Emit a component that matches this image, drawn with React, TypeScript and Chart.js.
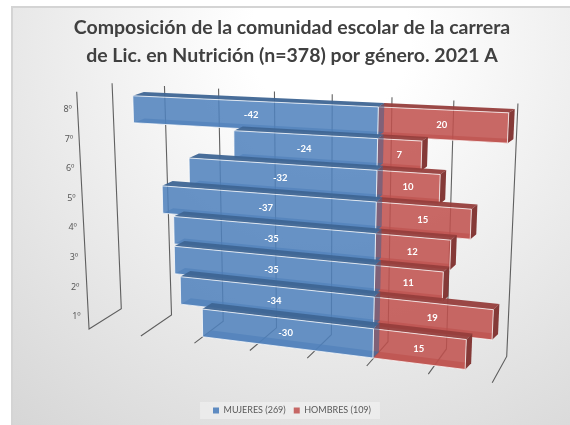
import React, { useEffect, useRef } from "react";
import { Chart, BarController, registerables } from "chart.js";

const titleLines = ["Composición de la comunidad escolar de la carrera", "de Lic. en Nutrición (n=378) por género. 2021 A"];
const categories = ["8º", "7º", "6º", "5º", "4º", "3º", "2º", "1º"];
const mujeres = [-42, -24, -32, -37, -35, -35, -34, -30];
const hombres = [20, 7, 10, 15, 12, 11, 19, 15];
const xTicks = { min: -50, max: 20, step: 10 };

type RGB = [number, number, number];
const rgba = (c: RGB, a: number) => `rgba(${c[0]},${c[1]},${c[2]},${a})`;
const BLUE: RGB = [79, 129, 189];
const RED: RGB = [192, 80, 77];
const FONT = "Lato, Carlito, sans-serif";

// Perspective of the plane that holds the front faces of the bars.
function frontPlane(v: number, t: number): [number, number] {
  const x0 = 378 - 0.68 * t;
  const s = 6.27 - 0.0386 * t;
  const k = 0.0018;
  const xr = (s * v) / (1 - k * v);
  const y0 = 121.5 + 31.7 * t;
  return [x0 + xr, y0 + (0.05 + 0.01 * t) * xr];
}
function backPlane(v: number, t: number): [number, number] {
  const [x, y] = frontPlane(v, t);
  return [x + (v < 0 ? 6 - 0.12 * v : 6), y - (4 + 0.3 * t)];
}
// Wall / floor frame positions for a value on the axis.
function frame(v: number, x0: number, y0: number, s: number, k: number, m: number): [number, number] {
  const xr = (s * v) / (1 - k * v);
  return [x0 + xr, y0 + m * xr];
}
const wallTop = (v: number) => frame(v, 392, 97.3, 6.08, 0.00172, 0.05);
const wallBottom = (v: number) => frame(v, 388, 341.7, 5.75, 0.00156, 0.124);
const floorFront = (v: number) => frame(v, 366.7, 366, 6.05, 0.00179, 0.133);

function quad(ctx: CanvasRenderingContext2D, pts: [number, number][], fill: string, stroke?: string) {
  ctx.beginPath();
  pts.forEach((p, i) => (i ? ctx.lineTo(p[0], p[1]) : ctx.moveTo(p[0], p[1])));
  ctx.closePath();
  ctx.fillStyle = fill;
  ctx.fill();
  if (stroke) {
    ctx.strokeStyle = stroke;
    ctx.lineWidth = 1;
    ctx.stroke();
  }
}

class Bar3DController extends BarController {
  static id = "bar3d";
  static defaults = BarController.defaults;
  static overrides = BarController.overrides;
  draw() {
    const ctx = (this as any)._ctx as CanvasRenderingContext2D;
    const chart = (this as any).chart;
    const meta = (this as any)._cachedMeta;
    const xs = chart.scales.x;
    const ys = chart.scales.y;
    const step = ys.getPixelForTick(1) - ys.getPixelForTick(0);
    const y0 = ys.getPixelForTick(0);
    const col: RGB = (this as any).getDataset().baseColor;
    meta.data.forEach((el: any) => {
      const { x, base, y, height } = el.getProps(["x", "base", "y", "height"], true);
      const v = xs.getValueForPixel(x);
      const z = xs.getValueForPixel(base);
      const tT = (y - height / 2 - y0) / step;
      const tB = (y + height / 2 - y0) / step;
      const dark = (f: number): RGB => [col[0] * f, col[1] * f, col[2] * f];
      const F = frontPlane;
      const B = backPlane;
      // hidden faces, seen through the translucent front
      quad(ctx, [F(z, tB), F(v, tB), B(v, tB), B(z, tB)], rgba(dark(0.85), 0.6));
      quad(ctx, [F(z, tT), F(z, tB), B(z, tB), B(z, tT)], rgba(dark(0.8), 0.5));
      // top and end
      quad(ctx, [F(z, tT), F(v, tT), B(v, tT), B(z, tT)], rgba(dark(0.78), 0.95));
      if (v > 0) quad(ctx, [F(v, tT), F(v, tB), B(v, tB), B(v, tT)], rgba(dark(0.68), 0.98));
      // front
      quad(ctx, [F(z, tT), F(v, tT), F(v, tB), F(z, tB)], rgba(col, 0.86), "rgba(255,255,255,0.75)");
    });
  }
}

const backdrop = {
  id: "backdrop",
  beforeDraw(chart: any) {
    const { ctx, width, height } = chart;
    ctx.save();
    ctx.fillStyle = "#ffffff";
    ctx.fillRect(0, 0, width, height);
    const g = ctx.createRadialGradient(330, 40, 80, 330, 40, 500);
    g.addColorStop(0, "#ffffff");
    g.addColorStop(1, "#d6d6d6");
    ctx.fillStyle = g;
    ctx.fillRect(12, 7, width - 12, height - 7);
    ctx.strokeStyle = "#d4d4d4";
    ctx.lineWidth = 2;
    ctx.beginPath();
    ctx.moveTo(12, height);
    ctx.lineTo(12, 7);
    ctx.lineTo(width, 7);
    ctx.stroke();
    const hb = chart.legend.legendHitBoxes;
    if (hb && hb.length) {
      const l = hb[0].left - 13;
      const r = hb[hb.length - 1].left + hb[hb.length - 1].width + 9;
      const t = hb[0].top - 4;
      ctx.fillStyle = "rgba(255,255,255,0.35)";
      ctx.fillRect(l, t, r - l, hb[0].height + 8);
    }
    ctx.restore();
  },
};

const frameAndLabels = {
  id: "frameAndLabels",
  beforeDatasetsDraw(chart: any) {
    const { ctx } = chart;
    const xs = chart.scales.x;
    ctx.save();
    ctx.strokeStyle = "rgba(60,60,60,0.8)";
    ctx.lineWidth = 1.1;
    xs.ticks.forEach((tick: any, i: number) => {
      const v = tick.value;
      const a = wallTop(v);
      const b = wallBottom(v);
      const c = floorFront(v);
      ctx.beginPath();
      ctx.moveTo(a[0], a[1]);
      ctx.lineTo(b[0], b[1]);
      ctx.lineTo(c[0], c[1]);
      if (i === 0) ctx.lineTo(76.7, 91.7);
      ctx.stroke();
    });
    // category labels along the side wall
    ctx.fillStyle = "#595959";
    ctx.font = `9px "Noto Sans", ${FONT}`;
    ctx.textAlign = "center";
    ctx.textBaseline = "middle";
    chart.scales.y.getLabels().forEach((label: string, i: number) => {
      ctx.fillText(label, 67.7 + 1.25 * i, 109.5 + 29.6 * i);
    });
    ctx.restore();
  },
  afterDatasetsDraw(chart: any) {
    const { ctx } = chart;
    const xs = chart.scales.x;
    const ys = chart.scales.y;
    const y0 = ys.getPixelForTick(0);
    const step = ys.getPixelForTick(1) - y0;
    ctx.save();
    ctx.fillStyle = "#ffffff";
    ctx.font = `bold 9.5px ${FONT}`;
    ctx.textAlign = "center";
    ctx.textBaseline = "middle";
    chart.data.datasets.forEach((ds: any, d: number) => {
      chart.getDatasetMeta(d).data.forEach((el: any, i: number) => {
        const v = xs.getValueForPixel(el.x);
        const z = xs.getValueForPixel(el.base);
        const t = (el.y - y0) / step;
        const p = frontPlane((v + z) / 2, t);
        ctx.fillText(String(ds.data[i]), p[0], p[1]);
      });
    });
    ctx.restore();
  },
};

Chart.register(...registerables, Bar3DController);

export default function App() {
  const ref = useRef<HTMLCanvasElement>(null);
  useEffect(() => {
    const chart = new Chart(ref.current as HTMLCanvasElement, {
      type: "bar3d" as any,
      data: {
        labels: categories,
        datasets: [
          { label: "MUJERES (269)", data: mujeres, baseColor: BLUE, backgroundColor: rgba(BLUE, 0.9), borderWidth: 0, barPercentage: 1, categoryPercentage: 0.92 } as any,
          { label: "HOMBRES (109)", data: hombres, baseColor: RED, backgroundColor: rgba(RED, 0.85), borderWidth: 0, barPercentage: 1, categoryPercentage: 0.92 } as any,
        ],
      },
      options: {
        indexAxis: "y",
        responsive: false,
        animation: false,
        layout: { padding: { left: 14, right: 0, top: 14, bottom: 0 } },
        scales: {
          x: {
            type: "linear",
            stacked: true,
            min: xTicks.min,
            max: xTicks.max,
            ticks: { display: false, stepSize: xTicks.step },
            grid: { display: false },
            border: { display: false },
          },
          y: {
            type: "category",
            stacked: true,
            ticks: { display: false },
            grid: { display: false },
            border: { display: false },
          },
        },
        plugins: {
          title: {
            display: true,
            text: titleLines,
            color: "#404040",
            font: { family: FONT, size: 19.5, weight: "bold", lineHeight: 1.42 },
            padding: { top: 0, bottom: 10 },
          },
          legend: {
            position: "bottom",
            labels: { boxWidth: 6, boxHeight: 6, padding: 8, color: "#595959", font: { family: FONT, size: 9 } },
          },
          tooltip: { enabled: false },
        },
      } as any,
      plugins: [backdrop, frameAndLabels],
    } as any);
    return () => chart.destroy();
  }, []);
  return (
    <div style={{ position: "absolute", left: 0, top: 0, width: 570, height: 425 }}>
      <canvas ref={ref} width={570} height={425} style={{ display: "block" }} />
    </div>
  );
}
